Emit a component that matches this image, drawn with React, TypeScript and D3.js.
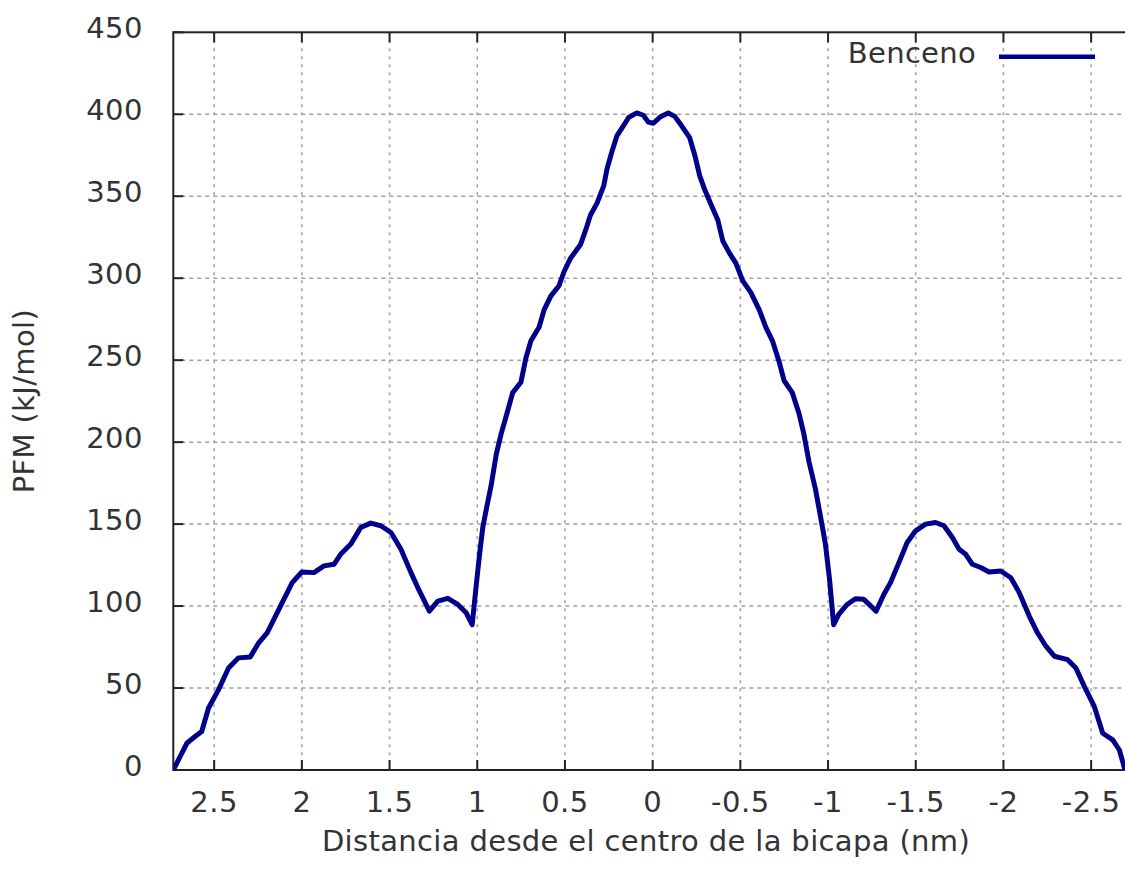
import React from 'react';
import * as d3 from 'd3';

const leftX = [
  2.733, 2.656, 2.609, 2.571, 2.532, 2.475, 2.418, 2.361, 2.294, 2.246, 2.198,
  2.122, 2.055, 2.0, 1.931, 1.874, 1.817, 1.779, 1.721, 1.664, 1.607, 1.55,
  1.492, 1.435, 1.378, 1.33, 1.273, 1.225, 1.168, 1.111, 1.063, 1.029, 1.006,
  0.987, 0.968, 0.949, 0.921, 0.892, 0.864, 0.836, 0.798, 0.751, 0.723, 0.694,
  0.647, 0.619, 0.581, 0.534, 0.506, 0.468, 0.411, 0.383, 0.355, 0.317, 0.279,
  0.26, 0.232, 0.204, 0.166, 0.138, 0.091, 0.053, 0.025
];
const leftY = [
  0, 16.3, 20.4, 23.5, 37.8, 49, 62.2, 68.4, 69, 77.6, 83.7,
  100, 114.3, 120.8, 120.4, 124.5, 125.5, 131.6, 137.8, 148, 150.6, 149,
  144.9, 134.7, 120.4, 109.2, 96.9, 103, 104.7, 101, 95.9, 88.6, 112.6,
  131.5, 148.3, 158.8, 173.5, 192.4, 205, 215.5, 230.2, 236.5, 251.2, 261.8,
  270.2, 280.7, 289.1, 295.4, 303.8, 312.2, 320.6, 329, 338.4, 345.8, 356.3,
  366.8, 377.3, 386.8, 393.1, 397.9, 400.8, 399.4, 395.2
];
// right half
const rightX = [
  -0.004, -0.042, -0.089, -0.126, -0.164, -0.211, -0.24, -0.268, -0.296,
  -0.334, -0.372, -0.4, -0.438, -0.475, -0.513, -0.56, -0.608, -0.645, -0.683,
  -0.721, -0.749, -0.796, -0.834, -0.862, -0.891, -0.928, -0.957, -0.985,
  -1.008, -1.032, -1.061, -1.109, -1.156, -1.204, -1.274, -1.318, -1.356,
  -1.404, -1.451, -1.499, -1.556, -1.613, -1.661, -1.709, -1.747, -1.785,
  -1.823, -1.87, -1.918, -1.985, -2.042, -2.09, -2.147, -2.194, -2.242, -2.29,
  -2.366, -2.413, -2.461, -2.518, -2.566, -2.623, -2.661, -2.693
];
const rightY = [
  394.5, 398.3, 400.8, 398.7, 393.1, 385.7, 375.2, 362.6, 354.2,
  344.7, 335.3, 322.7, 315.3, 309, 298.5, 291.2, 280.7, 270.2, 261.8,
  249.1, 237.6, 230.2, 217.6, 205, 188.2, 171.4, 154.6, 137.8,
  116.8, 88.6, 94.9, 101, 104.5, 104.1, 96.9, 107.1, 114.3,
  126.5, 138.8, 145.9, 150, 151, 149, 141.8, 134.7, 131.6,
  125.5, 123.5, 120.8, 121.4, 117.3, 108.2, 93.9, 83.7, 75.5, 69.4,
  67.3, 62.2, 51, 38.8, 22.4, 18.4, 12.2, 0
];

const xTicks = [2.5, 2, 1.5, 1, 0.5, 0, -0.5, -1, -1.5, -2, -2.5];
const yTicks = [0, 50, 100, 150, 200, 250, 300, 350, 400, 450];
const seriesName = 'Benceno';
const xTitle = 'Distancia desde el centro de la bicapa (nm)';
const yTitle = 'PFM (kJ/mol)';

const W = 1125;
const H = 869;
const plot = { left: 173.3, right: 1125, top: 32.3, bottom: 770 };
const font = '"DejaVu Sans", sans-serif';
const lineColor = '#00008b';
const textColor = '#333';

export default function App() {
  const x = d3.scaleLinear().domain([2.733, -2.693]).range([plot.left, plot.right]);
  const y = d3.scaleLinear().domain([0, 450]).range([plot.bottom, plot.top]);

  const pts = [
    ...leftX.map((v, i) => [v, leftY[i]]),
    ...rightX.map((v, i) => [v, rightY[i]])
  ];
  const line = d3
    .line()
    .x(d => x(d[0]))
    .y(d => y(d[1]));

  const tickLen = 10;

  return (
    <svg
      width={W}
      height={H}
      style={{ position: 'absolute', left: 0, top: 0, background: 'white' }}
      fontFamily={font}
    >
      <defs>
        <clipPath id="plotclip">
          <rect x={plot.left} y={plot.top - 3} width={plot.right - plot.left} height={plot.bottom - plot.top + 3} />
        </clipPath>
      </defs>

      {/* grid */}
      {xTicks.map(t => (
        <line
          key={'gx' + t}
          x1={x(t)}
          x2={x(t)}
          y1={plot.top}
          y2={plot.bottom}
          stroke="#a0a0a0"
          strokeWidth={1.5}
          strokeDasharray="3,5"
        />
      ))}
      {yTicks.slice(1, -1).map(t => (
        <line
          key={'gy' + t}
          x1={plot.left}
          x2={plot.right}
          y1={y(t)}
          y2={y(t)}
          stroke="#a0a0a0"
          strokeWidth={1.5}
          strokeDasharray="4,4"
        />
      ))}

      {/* ticks, mirrored on top */}
      {xTicks.map(t => (
        <g key={'tx' + t} stroke="#222" strokeWidth={2}>
          <line x1={x(t)} x2={x(t)} y1={plot.bottom} y2={plot.bottom - tickLen} />
          <line x1={x(t)} x2={x(t)} y1={plot.top} y2={plot.top + tickLen} />
        </g>
      ))}
      {yTicks.map(t => (
        <line
          key={'ty' + t}
          x1={plot.left}
          x2={plot.left + tickLen}
          y1={y(t)}
          y2={y(t)}
          stroke="#222"
          strokeWidth={2}
        />
      ))}

      {/* border */}
      <rect
        x={plot.left}
        y={plot.top}
        width={plot.right - plot.left + 5}
        height={plot.bottom - plot.top}
        fill="none"
        stroke="#222"
        strokeWidth={2}
      />

      {/* tick labels */}
      {xTicks.map(t => (
        <text key={'lx' + t} x={x(t)} y={811.5} fontSize={29} textAnchor="middle" fill={textColor} letterSpacing={0.5}>
          {String(t)}
        </text>
      ))}
      {yTicks.map(t => (
        <text key={'ly' + t} x={143} y={y(t) + 6} fontSize={29} textAnchor="end" fill={textColor} letterSpacing={0.5}>
          {String(t)}
        </text>
      ))}

      {/* axis titles */}
      <text x={646} y={851} fontSize={29} textAnchor="middle" fill={textColor} letterSpacing={0.35}>
        {xTitle}
      </text>
      <text
        transform={`translate(34, ${(plot.top + plot.bottom) / 2}) rotate(-90)`}
        fontSize={29}
        textAnchor="middle"
        fill={textColor}
        letterSpacing={0.35}
      >
        {yTitle}
      </text>

      {/* curve */}
      <path
        d={line(pts as [number, number][]) || ''}
        fill="none"
        stroke={lineColor}
        strokeWidth={5}
        strokeLinejoin="round"
        clipPath="url(#plotclip)"
      />

      {/* legend */}
      <text x={976} y={63.3} fontSize={29} textAnchor="end" fill={textColor} letterSpacing={0.3}>
        {seriesName}
      </text>
      <line x1={999} x2={1095} y1={56.7} y2={56.7} stroke={lineColor} strokeWidth={4.5} />
    </svg>
  );
}
